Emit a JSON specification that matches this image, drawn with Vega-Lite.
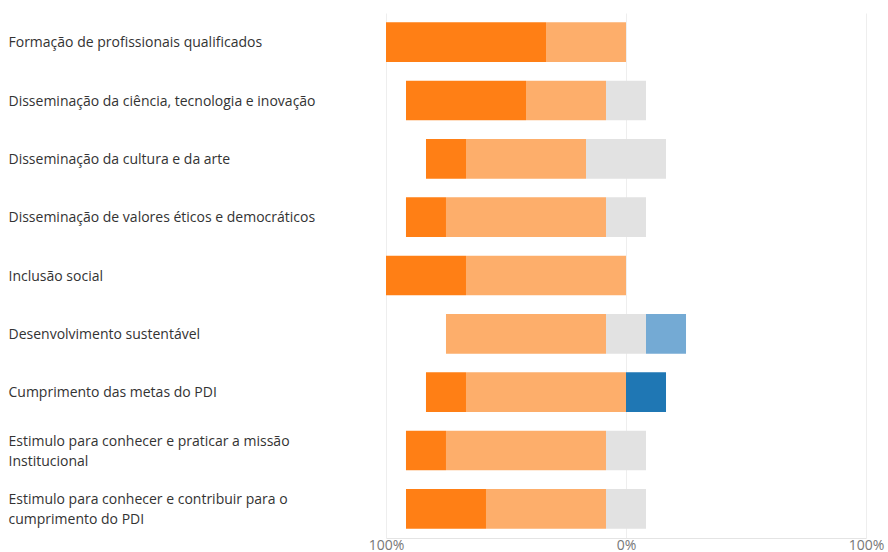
{
  "$schema": "https://vega.github.io/schema/vega-lite/v6.json",
  "width": 480,
  "height": 525,
  "autosize": {"type": "none"},
  "padding": {"left": 386, "top": 13, "right": 22, "bottom": 14},
  "background": "white",
  "config": {
    "view": {"stroke": null},
    "font": "Open Sans"
  },
  "data": {
    "values": [
      {"q": "Formação de profissionais qualificados", "type": "Muito bom", "pct": 66.67},
      {"q": "Formação de profissionais qualificados", "type": "Bom", "pct": 33.33},
      {"q": "Disseminação da ciência, tecnologia e inovação", "type": "Muito bom", "pct": 50},
      {"q": "Disseminação da ciência, tecnologia e inovação", "type": "Bom", "pct": 33.33},
      {"q": "Disseminação da ciência, tecnologia e inovação", "type": "Regular", "pct": 16.67},
      {"q": "Disseminação da cultura e da arte", "type": "Muito bom", "pct": 16.67},
      {"q": "Disseminação da cultura e da arte", "type": "Bom", "pct": 50},
      {"q": "Disseminação da cultura e da arte", "type": "Regular", "pct": 33.33},
      {"q": "Disseminação de valores éticos e democráticos", "type": "Muito bom", "pct": 16.67},
      {"q": "Disseminação de valores éticos e democráticos", "type": "Bom", "pct": 66.67},
      {"q": "Disseminação de valores éticos e democráticos", "type": "Regular", "pct": 16.67},
      {"q": "Inclusão social", "type": "Muito bom", "pct": 33.33},
      {"q": "Inclusão social", "type": "Bom", "pct": 66.67},
      {"q": "Desenvolvimento sustentável", "type": "Bom", "pct": 66.67},
      {"q": "Desenvolvimento sustentável", "type": "Regular", "pct": 16.67},
      {"q": "Desenvolvimento sustentável", "type": "Ruim", "pct": 16.67},
      {"q": "Cumprimento das metas do PDI", "type": "Muito bom", "pct": 16.67},
      {"q": "Cumprimento das metas do PDI", "type": "Bom", "pct": 66.67},
      {"q": "Cumprimento das metas do PDI", "type": "Muito ruim", "pct": 16.67},
      {"q": "Estimulo para conhecer e praticar a missão Institucional", "type": "Muito bom", "pct": 16.67},
      {"q": "Estimulo para conhecer e praticar a missão Institucional", "type": "Bom", "pct": 66.67},
      {"q": "Estimulo para conhecer e praticar a missão Institucional", "type": "Regular", "pct": 16.67},
      {"q": "Estimulo para conhecer e contribuir para o cumprimento do PDI", "type": "Muito bom", "pct": 33.33},
      {"q": "Estimulo para conhecer e contribuir para o cumprimento do PDI", "type": "Bom", "pct": 50},
      {"q": "Estimulo para conhecer e contribuir para o cumprimento do PDI", "type": "Regular", "pct": 16.67}
    ]
  },
  "transform": [
    {"calculate": "indexof(['Muito bom','Bom','Regular','Ruim','Muito ruim'], datum.type)", "as": "ord"},
    {"calculate": "datum.ord < 2 ? datum.pct : (datum.ord == 2 ? datum.pct / 2 : 0)", "as": "leftpart"},
    {"stack": "pct", "as": ["v1", "v2"], "groupby": ["q"], "sort": [{"field": "ord", "order": "ascending"}]},
    {"joinaggregate": [{"field": "leftpart", "op": "sum", "as": "offset"}], "groupby": ["q"]},
    {"calculate": "datum.v1 - datum.offset", "as": "x1"},
    {"calculate": "datum.v2 - datum.offset", "as": "x2"}
  ],
  "mark": {"type": "bar"},
  "encoding": {
    "y": {
      "field": "q",
      "type": "nominal",
      "sort": null,
      "title": null,
      "scale": {"paddingInner": 0.32, "paddingOuter": 0.16},
      "axis": {
        "orient": "left",
        "domain": false,
        "ticks": false,
        "labelAlign": "left",
        "labelPadding": 378,
        "labelFontSize": 14,
        "labelColor": "#333333",
        "labelLimit": 370,
        "labelLineHeight": 20,
        "labelOffset": {"condition": {"test": "indexof(datum.value, 'Estimulo') == 0", "value": -9}, "value": 1},
        "labelExpr": "datum.value == 'Estimulo para conhecer e praticar a missão Institucional' ? ['Estimulo para conhecer e praticar a missão', 'Institucional'] : (datum.value == 'Estimulo para conhecer e contribuir para o cumprimento do PDI' ? ['Estimulo para conhecer e contribuir para o', 'cumprimento do PDI'] : datum.value)"
      }
    },
    "x": {
      "field": "x1",
      "type": "quantitative",
      "title": null,
      "scale": {"domain": [-100, 100], "nice": false},
      "axis": {
        "values": [-100, 0, 100],
        "labelExpr": "abs(datum.value) + '%'",
        "grid": true,
        "gridColor": "#eeeeee",
        "domainColor": "#e4e4e4",
        "ticks": false,
        "labelPadding": 0,
        "labelFontSize": 14,
        "labelColor": "#777777",
        "labelFlush": false
      }
    },
    "x2": {"field": "x2"},
    "color": {
      "field": "type",
      "type": "nominal",
      "legend": null,
      "scale": {
        "domain": ["Muito bom", "Bom", "Regular", "Ruim", "Muito ruim"],
        "range": ["#ff7f15", "#fdae6b", "#e2e2e2", "#74aad4", "#1f77b4"]
      }
    }
  }
}
